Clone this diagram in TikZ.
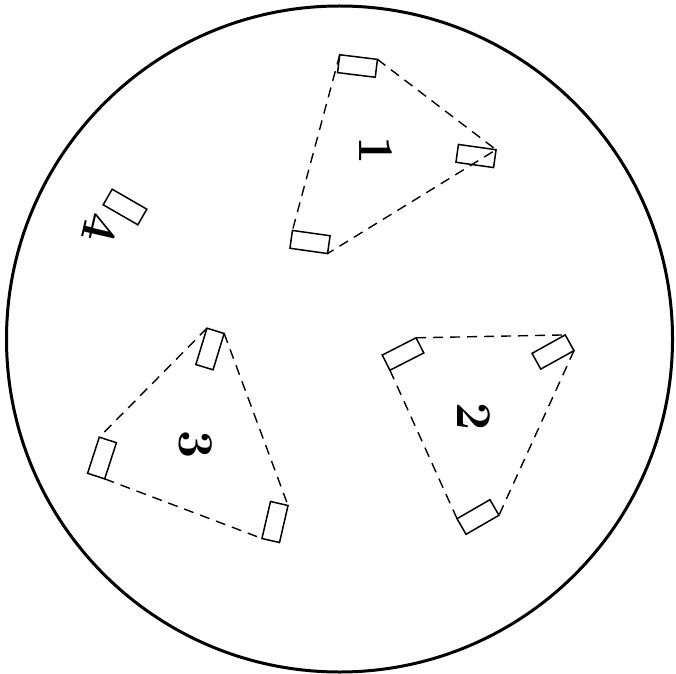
\documentclass[tikz,border=0pt]{standalone}
\begin{document}
\begin{tikzpicture}[x=1pt,y=1pt,
        box/.style={draw, line width=1.5pt, minimum width=38pt, minimum height=18pt, inner sep=0pt, outer sep=0pt},
        link/.style={line width=1.4pt, dash pattern=on 10pt off 7pt},
        num/.style={font=\fontsize{50}{50}\bfseries\selectfont, inner sep=0pt}]
            \useasboundingbox (0,0) rectangle (676,673);
            \draw[line width=3pt] (339.5,334) circle (333pt);
            % group 1
            \node[box, rotate=-7] (t1a) at (357.5,607) {};
            \node[box, rotate=-8] (t1b) at (476,517) {};
            \node[box, rotate=-8] (t1c) at (310,431) {};
            \draw[link] (t1a.north west) -- (t1c.north west);
            \draw[link] (t1a.north east) -- (t1b.north east) -- (t1c.south east);
            \node[num, rotate=-90] (l1) at (376,522) {1};
            % group 2
            \node[box, rotate=27, minimum height=17pt] (t2a) at (403,319) {};
            \node[box, rotate=29] (t2b) at (553,321) {};
            \node[box, rotate=30] (t2c) at (478,156) {};
            \draw[link] (t2a.north east) -- (t2b.north east);
            \draw[link] (t2b.south east) -- (t2c.south east);
            \draw[link] (t2a.south west) -- (t2c.north west);
            \node[num, rotate=-90] (l2) at (474,256) {2};
            % group 3
            \node[box, rotate=73] (t3a) at (210,324) {};
            \node[box, rotate=72] (t3b) at (102,215) {};
            \node[box, rotate=77] (t3c) at (275,151) {};
            \draw[link] (t3a.north east) -- (t3b.north east);
            \draw[link] (t3b.south west) -- (t3c.north west);
            \draw[link] (t3a.south east) -- (t3c.south east);
            \node[num, rotate=-90] (l3) at (196,228) {3};
            % single box
            \node[box, rotate=-30, minimum width=40pt] (b4) at (125,466) {};
            \node[num, rotate=-103] (l4) at (100,445) {4};
        \end{tikzpicture}
\end{document}
